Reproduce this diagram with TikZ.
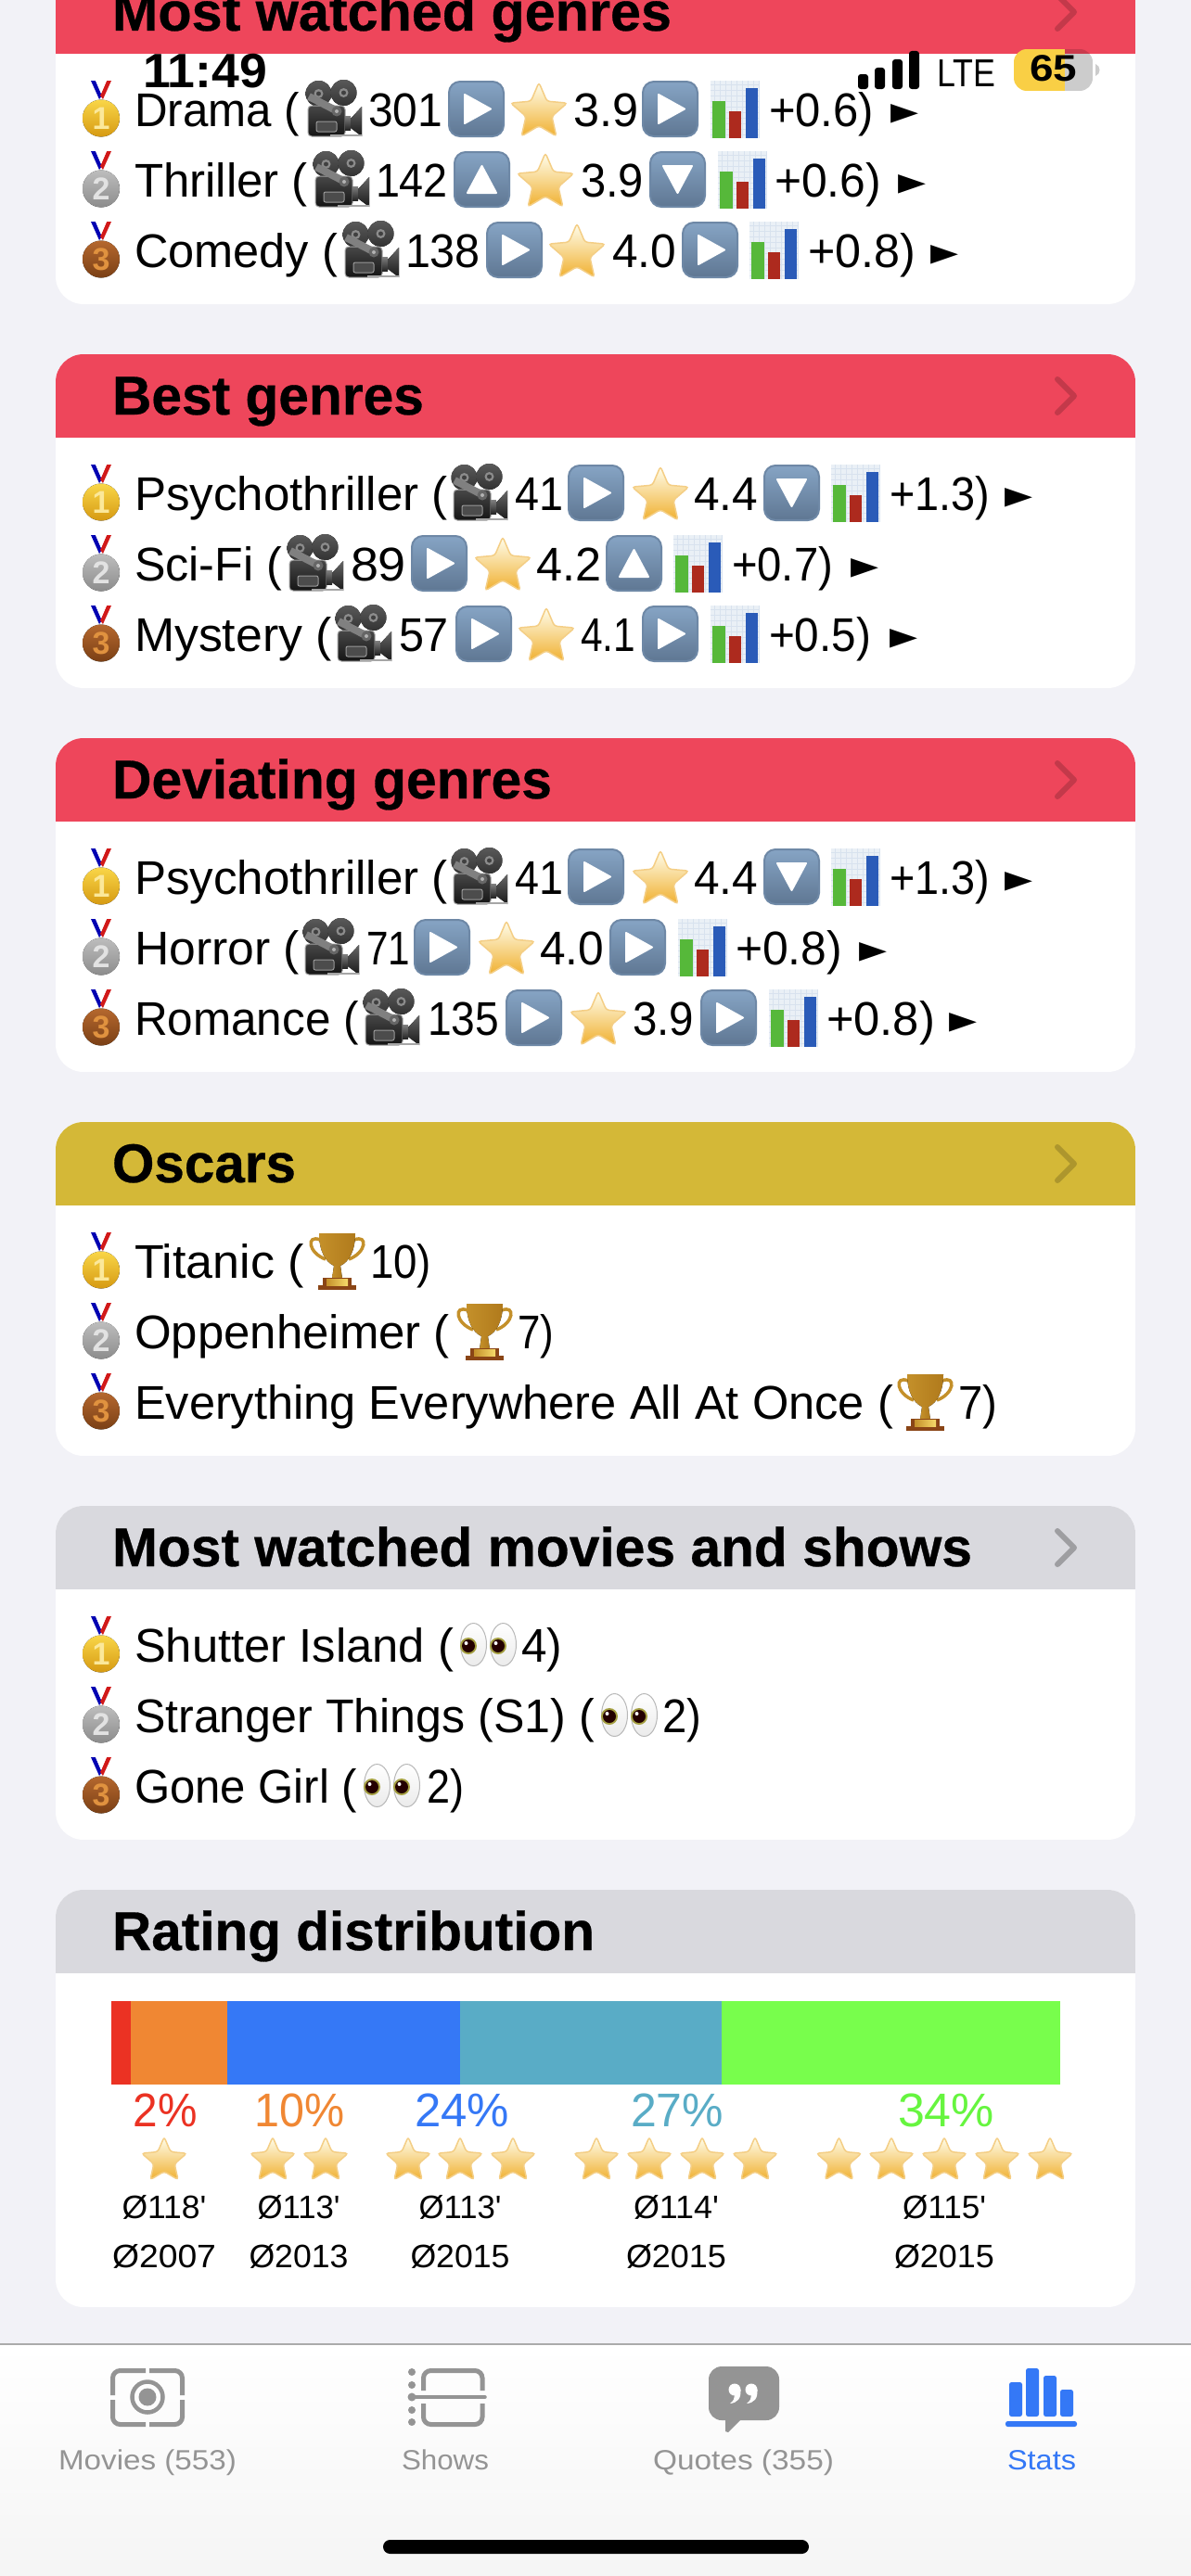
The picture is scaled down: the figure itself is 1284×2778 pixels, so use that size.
\documentclass[tikz,border=0pt]{standalone}
\usepackage{graphicx}
\usepackage{fontspec}
\setmainfont[Ligatures=TeXOff]{Liberation Sans}
\newfontfamily\tfont[Ligatures=TeXOff,BoldFeatures={FakeBold=0.5}]{Liberation Sans}
\newfontfamily\djv{DejaVu Sans}
\newcommand\fs[1]{\fontsize{#1}{#1}\selectfont}
\newcount\nid
\newsavebox\fitbox
\newcommand\fitw[2]{\sbox\fitbox{#2}\pgfmathsetmacro\fitr{#1/\the\wd\fitbox}\scalebox{\fitr}[1]{\usebox\fitbox}}
\definecolor{pagebg}{HTML}{F2F2F7}
\definecolor{hred}{HTML}{EE465B}
\definecolor{hgold}{HTML}{D4B837}
\definecolor{hgrey}{HTML}{D9D9DE}
\definecolor{tabgrey}{HTML}{949494}
\definecolor{tabblue}{HTML}{3478F6}
\definecolor{barred}{HTML}{EB3223}
\definecolor{barora}{HTML}{F08733}
\definecolor{barblu}{HTML}{3578F6}
\definecolor{bartea}{HTML}{59ACC6}
\definecolor{bargre}{HTML}{78FE4C}
\definecolor{labgre}{HTML}{66F53F}
\definecolor{goldt}{HTML}{F9D648}
\definecolor{goldb}{HTML}{D69A12}
\definecolor{goldd}{HTML}{FBE89A}
\definecolor{silvt}{HTML}{BDBDBD}
\definecolor{silvb}{HTML}{8C8C8C}
\definecolor{silvd}{HTML}{E2E2E2}
\definecolor{brnzt}{HTML}{B5682E}
\definecolor{brnzb}{HTML}{7A3F15}
\definecolor{brnzd}{HTML}{E0923F}
\definecolor{chg}{HTML}{56B83A}
\definecolor{chr}{HTML}{AD2A1E}
\definecolor{chb}{HTML}{2A5BB8}
\definecolor{chbg}{HTML}{EAF0F6}
\definecolor{chl}{HTML}{D8E2EE}
\definecolor{battyel}{HTML}{F9CF45}
\tikzset{
  txt/.style={anchor=base west,inner sep=0pt,outer sep=0pt,text=black,font={\fs{51}}},
  ctxt/.style={anchor=base,inner sep=0pt,outer sep=0pt,text=black,font={\fs{51}}},
  gi/.style={draw=tabgrey,line width=5pt,rounded corners=8pt},
  chev/.style={line width=6pt,line cap=round,line join=round},
}
% text placed at (x,y), fitted to width w
\newcommand\Tx[5]{\global\advance\nid by 1\relax
  \node[txt,#4] (t\the\nid) at (#1,#2) {\fitw{#3}{#5}};}
\newcommand\Cx[5]{\global\advance\nid by 1\relax
  \node[ctxt,#4] (t\the\nid) at (#1,#2) {\fitw{#3}{#5}};}
\newcommand\RT[3]{\Tx{#1}{49}{#2}{}{#3}}
\newcommand\emTri[1]{\global\advance\nid by 1\relax
  \node[inner sep=0pt,outer sep=0pt] (t\the\nid) at (#1+15,36) {\resizebox*{30pt}{21pt}{\djv ►}};}
\newcommand\emMedal[5]{%
  \fill[blue!70!black] (98,0)--(103,0)--(110,16)--(107,20)--cycle;
  \fill[red!80!black!90] (120,0)--(115,0)--(108,16)--(111,20)--cycle;
  \fill[white] (103,0)--(106,0)--(109.5,9)--(113,0)--(115,0)--(109,14)--cycle;
  \fill[top color=#1,bottom color=#2] (109,40.5) circle (20);
  \global\advance\nid by 1\relax
  \node[anchor=center,inner sep=0pt,text=#3,font={\bfseries\fs{#5}}] (t\the\nid) at (109,41) {#4};}
\newcommand\emBoxBg[1]{\draw[line width=2pt,draw=boxedge,top color=boxtop,bottom color=boxbot,rounded corners=12pt] (#1+1,1) rectangle (#1+60,60);}
\definecolor{boxedge}{HTML}{6E88A6}
\definecolor{boxtop}{HTML}{86A4C4}
\definecolor{boxbot}{HTML}{5F7793}
\newcommand\emPlay[1]{\emBoxBg{#1}\fill[white,draw=white,line width=2pt,line join=round] (#1+18,15)--(#1+18,46)--(#1+46,30.5)--cycle;}
\newcommand\emUp[1]{\emBoxBg{#1}\fill[white,draw=white,line width=2pt,line join=round] (#1+15,45)--(#1+46,45)--(#1+30.5,16)--cycle;}
\newcommand\emDown[1]{\emBoxBg{#1}\fill[white,draw=white,line width=2pt,line join=round] (#1+15,16)--(#1+46,16)--(#1+30.5,45)--cycle;}
\definecolor{stedge}{HTML}{F4CE85}
\definecolor{sttop}{HTML}{FFFEEE}
\definecolor{stmid}{HTML}{FFF6B8}
\definecolor{stbot}{HTML}{F0B030}
\newcommand\emStarAt[3]{\begin{scope}[shift={(#1,#2)},x=#3pt,y=-#3pt]
  \draw[draw=stedge,line width=1.5pt,top color=sttop,middle color=stmid,bottom color=stbot,rounded corners=3pt]
   (0,-1)--(.27,-.37)--(.951,-.309)--(.436,.142)--(.588,.809)--(0,.458)--(-.588,.809)--(-.436,.142)--(-.951,-.309)--(-.27,-.37)--cycle;
  \end{scope}}
\newcommand\emStar[1]{\emStarAt{#1+31}{34}{32}}
\newcommand\emChart[1]{\begin{scope}[shift={(#1,0)}]
  \fill[chbg] (0,0) rectangle (52,62);
  \foreach \gg in {4,10,...,52} {\draw[chl,line width=.6pt] (\gg,0)--(\gg,62);}
  \foreach \gg in {4,10,...,60} {\draw[chl,line width=.6pt] (0,\gg)--(52,\gg);}
  \fill[chg] (2,22) rectangle (16,62);
  \fill[chr] (20,33) rectangle (33,62);
  \fill[chb] (38,8) rectangle (51,62);
  \end{scope}}
\newcommand\emCam[1]{\begin{scope}[shift={(#1,0)}]
  \fill[top color=black!65,bottom color=black!80] (13.5,14) circle (14);
  \fill[top color=black!65,bottom color=black!80] (40.5,13) circle (14);
  \fill[black!45] (13.5,14) circle (5); \fill[black!75] (13.5,14) circle (2.5);
  \fill[black!45] (40.5,13) circle (5); \fill[black!75] (40.5,13) circle (2.5);
  \draw[black!35,line width=1pt,rounded corners=4pt,top color=black!72,bottom color=black!92] (2,27) rectangle (42,60);
  \draw[black!40,fill=black!70,line width=1pt,rounded corners=2pt] (11,44) rectangle (33,55);
  \fill[top color=black!50,bottom color=black!85] (42,38) rectangle (48,53);
  \fill[top color=black!60,bottom color=black!90] (48,41)--(60,28)--(60,60)--(48,51)--cycle;
  \fill[black!35] (26,58) rectangle (60,60);
  \draw[black!50,line width=8pt] (3,17)--(32,32);
  \fill[black!60] (33,33) circle (5.5); \fill[black!30] (33,33) circle (2);
  \end{scope}}
\definecolor{trl}{HTML}{C4902A}
\definecolor{trm}{HTML}{F6DA6A}
\definecolor{trr}{HTML}{B07A1C}
\definecolor{trb}{HTML}{8A4516}
\newcommand\emTro[1]{\begin{scope}[shift={(#1,0)}]
  \draw[trl,line width=3.5pt] (11,8) .. controls (-4,2) and (-2,22) .. (17,29);
  \draw[trl,line width=3.5pt] (48,8) .. controls (63,2) and (61,22) .. (42,29);
  \fill[left color=trl,middle color=trm,right color=trr] (10,1)--(49,1) .. controls (49,20) and (42,32) .. (33,36)--(26,36) .. controls (17,32) and (10,20) .. (10,1)--cycle;
  \fill[left color=trl,middle color=trm,right color=trr] (26,36)--(33,36)--(35,50)--(24,50)--cycle;
  \fill[trb] (14,49) rectangle (45,60);
  \fill[trb] (9,57) rectangle (50,62);
  \fill[left color=trl,right color=trm] (18,50) rectangle (41,57);
  \end{scope}}
\newcommand\emEye[1]{\begin{scope}[shift={(#1,0)}]
  \draw[black!28,line width=1pt,top color=white,bottom color=black!8] (14.5,30.5) ellipse (14 and 23);
  \fill[yellow!60!black] (9,32) circle (9);
  \fill[black!60!red!35!black] (9,32) circle (7);
  \fill[white] (6.5,29) circle (2);
  \end{scope}}
\newcommand\Row[4]{\begin{scope}[shift={(0,#1)}]
  \ifcase#2\or\emMedal{goldt}{goldb}{goldd}{1}{34}%
  \or\emMedal{silvt}{silvb}{silvd}{2}{34}%
  \or\emMedal{brnzt}{brnzb}{brnzd}{3}{34}\fi
  \RT{145}{#3}{#4}\end{scope}}
\newcommand\Card[6]{\begin{scope}[shift={(0,#1)}]
  \begin{scope}
  \clip[rounded corners=30pt] (60,0) rectangle (1224,#2);
  \fill[white] (60,0) rectangle (1224,#2);
  \fill[#3] (60,0) rectangle (1224,90);
  \end{scope}
  \Tx{121}{65}{#4}{font={\tfont\bfseries\fs{59}}}{#5}
  #6
  \end{scope}}
\newcommand\Chev[1]{\draw[chev,draw=black,opacity=#1] (1140,27)--(1158,45)--(1140,63);}
\begin{document}
\begin{tikzpicture}[x=1pt,y=-1pt]
\useasboundingbox (0,0) rectangle (1284,2778);
\clip (0,0) rectangle (1284,2778);
\fill[pagebg] (0,0) rectangle (1284,2778);
% ---- cards
\Card{-32}{360}{hred}{603}{Most watched genres}{\Chev{.18}}
\Card{382}{360}{hred}{336}{Best genres}{\Chev{.18}}
\Card{796}{360}{hred}{474}{Deviating genres}{\Chev{.18}}
\Card{1210}{360}{hgold}{198}{Oscars}{\Chev{.18}}
\Card{1624}{360}{hgrey}{927}{Most watched movies and shows}{\Chev{.27}}
\Card{2038}{450}{hgrey}{520}{Rating distribution}{}
% ---- card 1
\Row{87}{1}{178}{Drama (}
\begin{scope}[shift={(0,87)}]\emCam{330}\RT{397}{80}{301}\emPlay{483}\emStar{550}\RT{618}{70}{3.9}\emPlay{692}\emChart{766}\RT{829}{113}{+0.6)}\emTri{960}\end{scope}
\Row{163}{2}{187}{Thriller (}
\begin{scope}[shift={(0,163)}]\emCam{338}\RT{405}{78}{142}\emUp{489}\emStar{557}\RT{626}{68}{3.9}\emDown{700}\emChart{774}\RT{835}{115}{+0.6)}\emTri{968}\end{scope}
\Row{239}{3}{219}{Comedy (}
\begin{scope}[shift={(0,239)}]\emCam{370}\RT{437}{81}{138}\emPlay{524}\emStar{591}\RT{660}{69}{4.0}\emPlay{735}\emChart{808}\RT{871}{116}{+0.8)}\emTri{1003}\end{scope}
% ---- card 2
\Row{501}{1}{338}{Psychothriller (}
\begin{scope}[shift={(0,501)}]\emCam{487}\RT{555}{52}{41}\emPlay{612}\emStar{681}\RT{748}{69}{4.4}\emDown{823}\emChart{896}\RT{959}{108}{+1.3)}\emTri{1083}\end{scope}
\Row{577}{2}{159}{Sci-Fi (}
\begin{scope}[shift={(0,577)}]\emCam{310}\RT{378}{60}{89}\emPlay{443}\emStar{511}\RT{578}{70}{4.2}\emUp{653}\emChart{726}\RT{789}{109}{+0.7)}\emTri{917}\end{scope}
\Row{653}{3}{213}{Mystery (}
\begin{scope}[shift={(0,653)}]\emCam{362}\RT{430}{54}{57}\emPlay{491}\emStar{558}\RT{626}{59}{4.1}\emPlay{692}\emChart{766}\RT{829}{110}{+0.5)}\emTri{959}\end{scope}
% ---- card 3
\Row{915}{1}{338}{Psychothriller (}
\begin{scope}[shift={(0,915)}]\emCam{487}\RT{555}{52}{41}\emPlay{612}\emStar{681}\RT{748}{69}{4.4}\emDown{823}\emChart{896}\RT{959}{108}{+1.3)}\emTri{1083}\end{scope}
\Row{991}{2}{178}{Horror (}
\begin{scope}[shift={(0,991)}]\emCam{327}\RT{395}{47}{71}\emPlay{446}\emStar{515}\RT{582}{69}{4.0}\emPlay{657}\emChart{731}\RT{793}{115}{+0.8)}\emTri{926}\end{scope}
\Row{1067}{3}{242}{Romance (}
\begin{scope}[shift={(0,1067)}]\emCam{392}\RT{461}{77}{135}\emPlay{545}\emStar{614}\RT{682}{66}{3.9}\emPlay{755}\emChart{829}\RT{891}{117}{+0.8)}\emTri{1023}\end{scope}
% ---- card 4
\Row{1329}{1}{183}{Titanic (}
\begin{scope}[shift={(0,1329)}]\emTro{334}\RT{399}{66}{10)}\end{scope}
\Row{1405}{2}{340}{Oppenheimer (}
\begin{scope}[shift={(0,1405)}]\emTro{493}\RT{558}{39}{7)}\end{scope}
\Row{1481}{3}{818}{Everything Everywhere All At Once (}
\begin{scope}[shift={(0,1481)}]\emTro{968}\RT{1033}{42}{7)}\end{scope}
% ---- card 5
\Row{1743}{1}{344}{Shutter Island (}
\begin{scope}[shift={(0,1743)}]\emEye{496}\emEye{528}\RT{562}{44}{4)}\end{scope}
\Row{1819}{2}{496}{Stranger Things (S1) (}
\begin{scope}[shift={(0,1819)}]\emEye{648}\emEye{680}\RT{714}{42}{2)}\end{scope}
\Row{1895}{3}{240}{Gone Girl (}
\begin{scope}[shift={(0,1895)}]\emEye{392}\emEye{424}\RT{460}{40}{2)}\end{scope}
% ---- rating bar
\fill[barred] (120,2158) rectangle (141,2248);
\fill[barora] (141,2158) rectangle (245,2248);
\fill[barblu] (245,2158) rectangle (496,2248);
\fill[bartea] (496,2158) rectangle (778,2248);
\fill[bargre] (778,2158) rectangle (1143,2248);
\Cx{178}{2293}{69}{text=barred}{2\%}
\Cx{323}{2293}{97}{text=barora}{10\%}
\Cx{498}{2293}{102}{text=barblu}{24\%}
\Cx{730}{2293}{100}{text=bartea}{27\%}
\Cx{1020}{2293}{104}{text=labgre}{34\%}
\foreach \sx in {177,294,351,440,496,553,643,700,757,814,904.5,961,1018,1075,1132} {\emStarAt{\sx}{2330}{25.5}}
\Cx{177}{2392}{91}{font={\fs{35}}}{Ø118'}
\Cx{322}{2392}{89}{font={\fs{35}}}{Ø113'}
\Cx{496}{2392}{89}{font={\fs{35}}}{Ø113'}
\Cx{729}{2392}{92}{font={\fs{35}}}{Ø114'}
\Cx{1018}{2392}{90}{font={\fs{35}}}{Ø115'}
\Cx{177}{2445}{112}{font={\fs{35}}}{Ø2007}
\Cx{322}{2445}{107}{font={\fs{35}}}{Ø2013}
\Cx{496}{2445}{107}{font={\fs{35}}}{Ø2015}
\Cx{729}{2445}{108}{font={\fs{35}}}{Ø2015}
\Cx{1018}{2445}{108}{font={\fs{35}}}{Ø2015}
% ---- tab bar
\fill[top color=white,bottom color=black!4] (0,2528) rectangle (1284,2778);
\draw[black!33,line width=1.5pt] (0,2528)--(1284,2528);
% movies icon
\draw[gi] (157,2556.5)--(121.5,2556.5)--(121.5,2583);
\draw[gi] (161,2556.5)--(196.5,2556.5)--(196.5,2583);
\draw[gi] (157,2614.5)--(121.5,2614.5)--(121.5,2588);
\draw[gi] (161,2614.5)--(196.5,2614.5)--(196.5,2588);
\draw[tabgrey,line width=4.5pt] (159,2585) circle (16.5);
\fill[tabgrey] (159,2585) circle (9.5);
% shows icon
\foreach \dy in {2558,2572,2599,2612} {\fill[tabgrey] (444,\dy) circle (4);}
\fill[tabgrey] (444,2585) circle (4.5);
\draw[tabgrey,line width=3.5pt,line cap=round] (444,2585)--(523,2585);
\draw[gi] (456.5,2578)--(456.5,2556.5)--(520,2556.5)--(520,2578);
\draw[gi] (456.5,2592)--(456.5,2614.5)--(520,2614.5)--(520,2592);
% quotes icon
\fill[tabgrey,rounded corners=14pt] (764,2552) rectangle (840,2610);
\fill[tabgrey,line join=round] (782,2605)--(782,2622)--(785,2623)--(800,2608)--cycle;
\fill[white] (792,2577) circle (6.5);
\fill[white] (798.5,2577) .. controls (799,2587) and (795,2591) .. (787,2592) .. controls (791,2589) and (792,2586) .. (792,2583)--cycle;
\fill[white] (810,2577) circle (6.5);
\fill[white] (816.5,2577) .. controls (817,2587) and (813,2591) .. (805,2592) .. controls (809,2589) and (810,2586) .. (810,2583)--cycle;
% stats icon
\fill[tabblue,rounded corners=2.5pt] (1088,2569) rectangle (1102,2606);
\fill[tabblue,rounded corners=2.5pt] (1106,2554) rectangle (1120,2606);
\fill[tabblue,rounded corners=2.5pt] (1125,2562) rectangle (1139,2606);
\fill[tabblue,rounded corners=2.5pt] (1143,2577) rectangle (1157,2606);
\fill[tabblue,rounded corners=2.5pt] (1084,2611) rectangle (1161,2617);
% tab labels
\Tx{63}{2663}{192}{font={\fs{30}},text=tabgrey}{Movies (553)}
\Tx{433}{2663}{94}{font={\fs{30}},text=tabgrey}{Shows}
\Tx{704}{2663}{195}{font={\fs{30}},text=tabgrey}{Quotes (355)}
\Tx{1086}{2663}{74}{font={\fs{30}},text=tabblue}{Stats}
\fill[black,rounded corners=7.5pt] (413,2739) rectangle (872,2754);
% ---- status bar
\Tx{154}{95}{134}{font={\bfseries\fs{52}}}{11:49}
\fill[black,rounded corners=3pt] (925,80) rectangle (936,96);
\fill[black,rounded corners=3pt] (943,73) rectangle (954,96);
\fill[black,rounded corners=3pt] (962,64) rectangle (973,96);
\fill[black,rounded corners=3pt] (980,55) rectangle (991,96);
\Tx{1010}{93}{63}{font={\fs{42}}}{LTE}
\begin{scope}
\clip[rounded corners=14pt] (1093,53) rectangle (1178,98);
\fill[black!20] (1148,58) rectangle (1178,98);
\fill[hred!85!black] (1148,53) rectangle (1178,58);
\fill[battyel] (1093,53) rectangle (1148,98);
\end{scope}
\fill[black!20] (1181,69) .. controls (1187,71) and (1187,80) .. (1181,82)--cycle;
\Tx{1110}{88}{51}{font={\bfseries\fs{40}}}{65}
\end{tikzpicture}
\end{document}
